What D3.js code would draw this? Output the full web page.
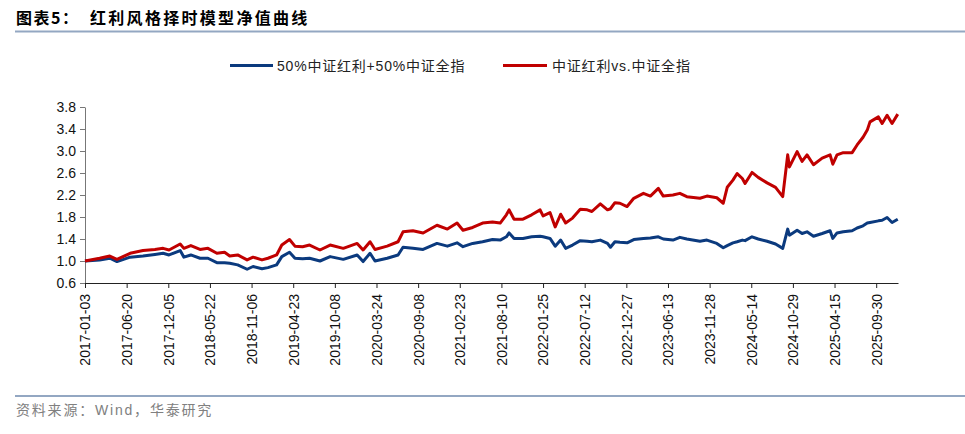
<!DOCTYPE html>
<html>
<head>
<meta charset="utf-8">
<script src="https://cdn.jsdelivr.net/npm/d3@7"></script>
<style>
  body { margin: 0; background: #fff; }
  text { font-family: "Liberation Sans", Arial, "Noto Sans CJK SC", sans-serif; }
</style>
</head>
<body>
<div id="chart"></div>
<script>
// dates (trading-day axis, roughly 4 days per pixel)
const dates = [
  "2017-01-03","2017-03-03","2017-04-13","2017-05-12","2017-07-04","2017-08-25","2017-10-12","2017-11-14","2017-12-08",
  "2018-01-22","2018-02-06","2018-03-06","2018-04-12","2018-05-14","2018-06-19","2018-07-20","2018-08-10","2018-09-11",
  "2018-10-19","2018-11-12","2018-12-18","2019-01-11","2019-02-15","2019-03-08","2019-04-08","2019-04-30","2019-05-31",
  "2019-06-28","2019-08-09","2019-09-19","2019-11-11","2020-01-06","2020-01-30","2020-02-27","2020-03-18","2020-05-06",
  "2020-06-19","2020-07-09","2020-08-18","2020-09-28","2020-11-23","2021-01-04","2021-02-12","2021-03-08","2021-04-16",
  "2021-05-26","2021-07-05","2021-08-05","2021-08-30","2021-09-10","2021-09-30","2021-11-05","2021-12-10","2022-01-13",
  "2022-01-25","2022-02-22","2022-03-15","2022-04-06","2022-04-26","2022-05-24","2022-06-24","2022-07-22","2022-08-10",
  "2022-09-13","2022-10-12","2022-10-24","2022-11-11","2022-12-01","2022-12-30","2023-01-26","2023-03-06","2023-04-03",
  "2023-05-05","2023-05-25","2023-07-03","2023-07-31","2023-08-28","2023-10-20","2023-11-17","2023-12-27","2024-01-22",
  "2024-02-07","2024-03-01","2024-03-18","2024-04-08","2024-04-19","2024-05-17","2024-06-11","2024-07-17","2024-08-20",
  "2024-09-18","2024-10-08","2024-10-15","2024-11-15","2024-12-05","2024-12-25","2025-01-20","2025-02-24","2025-03-28",
  "2025-04-08","2025-04-25","2025-05-20","2025-06-25","2025-07-15","2025-08-08","2025-08-25","2025-09-05","2025-10-09",
  "2025-10-24","2025-11-13","2025-12-03","2025-12-26"
];

// 50%中证红利+50%中证全指
const mixValues = [
  1.00,1.02,1.05,0.99,1.07,1.09,1.12,1.14,1.11,
  1.19,1.07,1.11,1.05,1.05,0.97,0.97,0.96,0.93,
  0.85,0.90,0.86,0.88,0.93,1.08,1.16,1.05,1.04,
  1.05,1.00,1.08,1.03,1.11,0.99,1.14,1.00,1.05,
  1.11,1.25,1.23,1.21,1.32,1.27,1.33,1.26,1.32,
  1.35,1.39,1.38,1.44,1.51,1.41,1.41,1.44,1.45,
  1.44,1.41,1.27,1.38,1.23,1.29,1.37,1.36,1.35,
  1.38,1.32,1.25,1.35,1.34,1.33,1.39,1.41,1.42,
  1.44,1.40,1.38,1.43,1.40,1.36,1.38,1.32,1.24,
  1.28,1.33,1.35,1.38,1.37,1.44,1.40,1.36,1.31,
  1.23,1.58,1.47,1.56,1.50,1.53,1.45,1.50,1.55,
  1.41,1.51,1.53,1.55,1.60,1.64,1.69,1.70,1.73,
  1.74,1.79,1.70,1.76
];

// 中证红利vs.中证全指
const timingValues = [
  1.00,1.05,1.09,1.03,1.14,1.19,1.21,1.23,1.20,
  1.31,1.23,1.28,1.21,1.23,1.14,1.16,1.09,1.11,
  1.02,1.07,1.02,1.05,1.11,1.29,1.39,1.27,1.26,
  1.29,1.20,1.29,1.23,1.32,1.20,1.35,1.21,1.27,
  1.35,1.53,1.55,1.51,1.65,1.58,1.69,1.56,1.61,
  1.69,1.71,1.69,1.84,1.93,1.76,1.76,1.84,1.93,
  1.82,1.88,1.62,1.85,1.69,1.78,1.94,1.93,1.90,
  2.04,1.93,1.95,2.06,2.05,1.99,2.14,2.23,2.18,
  2.32,2.18,2.20,2.23,2.17,2.14,2.18,2.15,2.05,
  2.34,2.47,2.59,2.50,2.41,2.61,2.52,2.42,2.34,
  2.17,2.93,2.71,2.99,2.81,2.93,2.75,2.87,2.93,
  2.76,2.93,2.97,2.97,3.11,3.25,3.38,3.53,3.62,
  3.50,3.65,3.50,3.67
];

const seriesNames = ["50%中证红利+50%中证全指", "中证红利vs.中证全指"];
const seriesColors = ["#0b3a7e", "#c00000"];

const xTickLabels = [
  "2017-01-03","2017-06-20","2017-12-05","2018-05-22","2018-11-06","2019-04-23","2019-10-08",
  "2020-03-24","2020-09-08","2021-02-23","2021-08-10","2022-01-25","2022-07-12","2022-12-27",
  "2023-06-13","2023-11-28","2024-05-14","2024-10-29","2025-04-15","2025-09-30"
];
const yTicks = [0.6, 1.0, 1.4, 1.8, 2.2, 2.6, 3.0, 3.4, 3.8];

const W = 965, H = 434;
const margin = {top: 107, right: 67, bottom: 151, left: 85};

const parse = d3.timeParse("%Y-%m-%d");

const svg = d3.select("#chart").append("svg")
  .attr("width", W)
  .attr("height", H);

// title + rules
svg.append("text")
  .attr("x", 16).attr("y", 24)
  .attr("font-size", 16).attr("font-weight", "bold")
  .style("font-family", "'Noto Sans CJK SC', sans-serif")
  .style("letter-spacing", "1.5px")
  .text("图表5：");
svg.append("text")
  .attr("x", 90).attr("y", 24)
  .attr("font-size", 16).attr("font-weight", "bold")
  .style("font-family", "'Noto Sans CJK SC', sans-serif")
  .style("letter-spacing", "2.3px")
  .text("红利风格择时模型净值曲线");
svg.append("line")
  .attr("x1", 15).attr("x2", W).attr("y1", 31.5).attr("y2", 31.5)
  .attr("stroke", "#93a7c2").attr("stroke-width", 2);
svg.append("line")
  .attr("x1", 15).attr("x2", W).attr("y1", 396).attr("y2", 396)
  .attr("stroke", "#93a7c2").attr("stroke-width", 2);
svg.append("text")
  .attr("x", 16).attr("y", 415)
  .attr("font-size", 14).attr("fill", "#808080")
  .style("letter-spacing", "1.8px")
  .text("资料来源：Wind，华泰研究");

// legend
const legendItems = [
  {x1: 230, x2: 273, tx: 277},
  {x1: 503, x2: 547, tx: 552}
];
legendItems.forEach((d, i) => {
  svg.append("line")
    .attr("x1", d.x1).attr("x2", d.x2).attr("y1", 65.5).attr("y2", 65.5)
    .attr("stroke", seriesColors[i]).attr("stroke-width", 3);
  svg.append("text")
    .attr("x", d.tx).attr("y", 70.5)
    .attr("font-size", 14).attr("fill", "#222")
    .style("letter-spacing", "0.8px")
    .text(seriesNames[i]);
});

const g = svg.append("g")
  .attr("transform", `translate(${margin.left}, ${margin.top})`);
const width = W - margin.left - margin.right,
  height = H - margin.top - margin.bottom;

const x = d3.scaleTime()
  .domain([parse("2017-01-03"), parse("2025-12-27")])
  .range([0, width]);
const y = d3.scaleLinear()
  .domain([0.6, 3.8])
  .range([height, 0]);

// y axis
const yAxis = g.append("g")
  .call(d3.axisLeft(y).tickValues(yTicks).tickFormat(d3.format(".1f")).tickSize(5).tickSizeOuter(0));
yAxis.select(".domain").attr("stroke", "#777");
yAxis.selectAll(".tick line").attr("stroke", "#777");
yAxis.selectAll("text")
  .attr("font-size", 14).attr("fill", "#111")
  .style("font-family", "'Liberation Sans', Arial, sans-serif")
  .attr("x", -9);

// x axis
const xAxis = g.append("g")
  .attr("transform", `translate(0, ${height})`)
  .call(d3.axisBottom(x)
    .tickValues(xTickLabels.map(parse))
    .tickFormat(d3.timeFormat("%Y-%m-%d"))
    .tickSize(5).tickSizeOuter(0));
xAxis.select(".domain").attr("stroke", "#222");
xAxis.selectAll(".tick line").attr("stroke", "#222");
xAxis.selectAll("text")
  .attr("font-size", 14).attr("fill", "#111")
  .style("font-family", "'Liberation Sans', Arial, sans-serif")
  .attr("transform", "rotate(-90)")
  .attr("text-anchor", "end")
  .attr("x", -11).attr("y", 0).attr("dy", "0.35em");

// lines
const line = d3.line()
  .x(d => x(d.date))
  .y(d => y(d.value));

[mixValues, timingValues].forEach((vals, i) => {
  const rows = dates.map((dt, j) => ({date: parse(dt), value: vals[j]}));
  g.append("path")
    .datum(rows)
    .attr("fill", "none")
    .attr("stroke", seriesColors[i])
    .attr("stroke-width", 3)
    .attr("stroke-linejoin", "round")
    .attr("d", line);
});
</script>
</body>
</html>
